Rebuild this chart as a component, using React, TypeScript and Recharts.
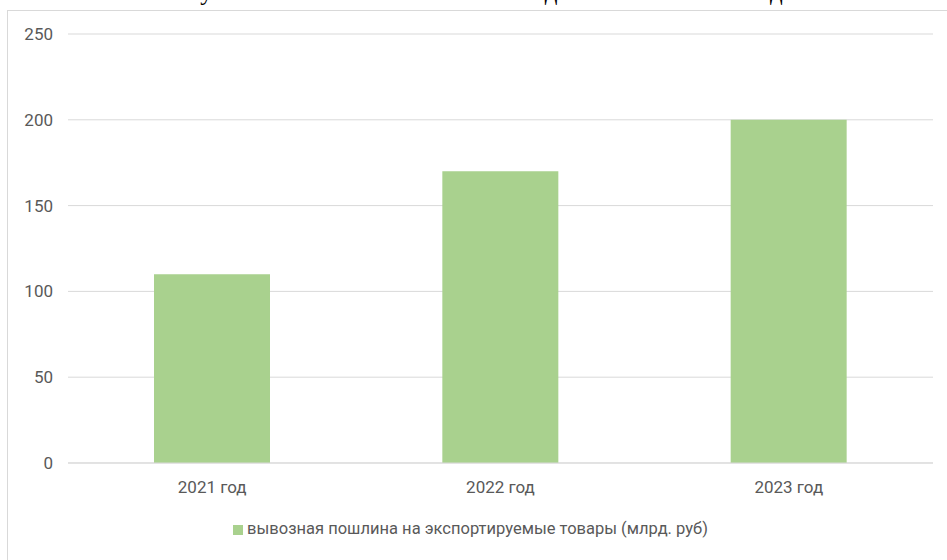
import React from 'react';
import { BarChart, Bar, XAxis, YAxis, CartesianGrid, Legend } from 'recharts';

const years = ['2021 год', '2022 год', '2023 год'];
const duty = [110, 170, 200];
const yTicks = [0, 50, 100, 150, 200, 250];
const seriesName = 'вывозная пошлина на экспортируемые товары (млрд. руб)';
const title = 'Поступления вывозных пошлин в бюджет за 2021–2023 годы';

const data = years.map((year, i) => ({ year, duty: duty[i] }));

const font = 'Roboto, sans-serif';
const textColor = '#595959';

const App = () => {
  return (
    <div style={{ position: 'fixed', left: 0, top: 0, width: 947, height: 560, background: '#fff', overflow: 'hidden' }}>
      {/* document title above the chart, cut off by the top edge as in the source */}
      <div
        style={{
          position: 'absolute',
          left: 0,
          top: -21,
          width: 947,
          textAlign: 'center',
          fontFamily: '"Liberation Serif", serif',
          fontSize: 25,
          lineHeight: '26px',
          color: '#000',
          whiteSpace: 'nowrap',
        }}
      >
        {title}
      </div>
      {/* chart frame */}
      <div
        style={{
          position: 'absolute',
          left: 7,
          top: 10,
          width: 960,
          height: 580,
          borderLeft: '1px solid #d9d9d9',
          borderTop: '1px solid #d9d9d9',
        }}
      />
      <div style={{ position: 'absolute', left: 0, top: 0 }}>
        <BarChart width={947} height={560} data={data} margin={{ top: 34, right: 14, left: 18, bottom: 27 }}>
          <CartesianGrid vertical={false} stroke="#d9d9d9" />
          <XAxis
            dataKey="year"
            axisLine={{ stroke: '#d9d9d9' }}
            tickLine={false}
            tickSize={0}
            tickMargin={18}
            height={30}
            tick={{ fill: textColor, fontSize: 17, fontFamily: font }}
          />
          <YAxis
            domain={[0, 250]}
            ticks={yTicks}
            width={50}
            axisLine={false}
            tickLine={false}
            tickSize={0}
            tickMargin={15}
            tick={{ fill: textColor, fontSize: 17, fontFamily: font }}
          />
          <Legend
            height={40}
            iconType="square"
            iconSize={10}
            wrapperStyle={{ top: 519, fontFamily: font, fontSize: 16.5 }}
            formatter={(value) => <span style={{ color: textColor }}>{value}</span>}
          />
          <Bar dataKey="duty" name={seriesName} fill="#a9d18e" barSize={116} isAnimationActive={false} />
        </BarChart>
      </div>
    </div>
  );
};

export default App;
